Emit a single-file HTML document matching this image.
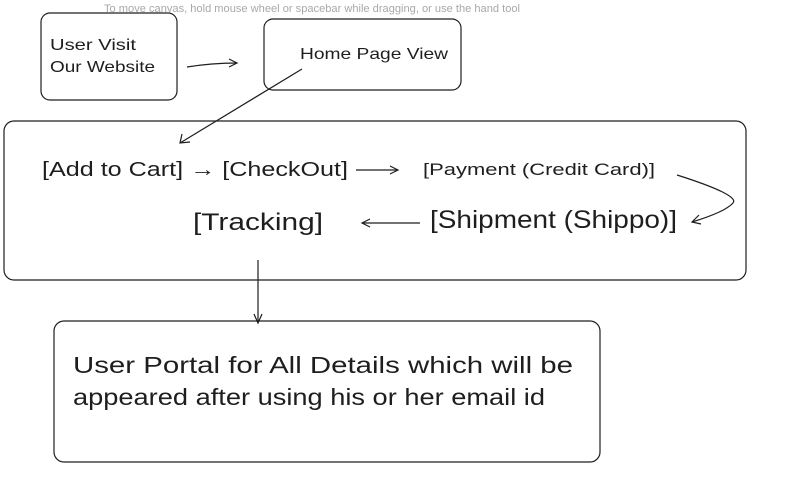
<!DOCTYPE html>
<html><head><meta charset="utf-8"><style>
html,body{margin:0;padding:0;background:#fff;width:797px;height:477px;overflow:hidden}
svg{display:block}
text{font-family:"Liberation Sans",sans-serif;fill:#1e1e1e}
</style></head><body>
<svg width="797" height="477" viewBox="0 0 797 477" xmlns="http://www.w3.org/2000/svg">
<text x="104" y="12" font-size="11" style="fill:#a8a8a8" textLength="416" lengthAdjust="spacingAndGlyphs">To move canvas, hold mouse wheel or spacebar while dragging, or use the hand tool</text>
<g fill="none" stroke="#1e1e1e" stroke-width="1.2">
<rect x="41" y="13" width="136" height="87" rx="9"/>
<rect x="264" y="19" width="197" height="71" rx="9"/>
<rect x="4" y="121" width="742" height="159" rx="10"/>
<rect x="54" y="321" width="546" height="141" rx="10"/>
<path d="M187 67 Q212 63 237 63"/><path d="M229 59 L237 63 L229 67"/>
<path d="M302 69 L180 143"/><path d="M182 134 L180 143 L190 142"/>
<path d="M356 170 L398 170"/><path d="M390 166 L398 170 L390 174"/>
<path d="M677 175 Q740 195 733 203 Q725 212 692 222"/><path d="M699 215 L692 222 L701 224"/>
<path d="M420 223 L362 223"/><path d="M370 219 L362 223 L370 227"/>
<path d="M258 260 L258 323"/><path d="M254 314 L258 323 L262 314"/>
</g>
<text x="50" y="50" font-size="16" textLength="86" lengthAdjust="spacingAndGlyphs">User Visit</text>
<text x="50" y="72" font-size="16" textLength="105" lengthAdjust="spacingAndGlyphs">Our Website</text>
<text x="300" y="59" font-size="16" textLength="148" lengthAdjust="spacingAndGlyphs">Home Page View</text>
<text x="42" y="176" font-size="20" textLength="306" lengthAdjust="spacingAndGlyphs">[Add to Cart] → [CheckOut]</text>
<text x="423" y="175" font-size="17" textLength="232" lengthAdjust="spacingAndGlyphs">[Payment (Credit Card)]</text>
<text x="430" y="228" font-size="25" textLength="247" lengthAdjust="spacingAndGlyphs">[Shipment (Shippo)]</text>
<text x="193" y="230" font-size="24" textLength="130" lengthAdjust="spacingAndGlyphs">[Tracking]</text>
<text x="73" y="373" font-size="23" textLength="500" lengthAdjust="spacingAndGlyphs">User Portal  for All Details which will be</text>
<text x="73" y="405" font-size="23" textLength="472" lengthAdjust="spacingAndGlyphs">appeared after using his or her email id</text>
</svg>
</body></html>
